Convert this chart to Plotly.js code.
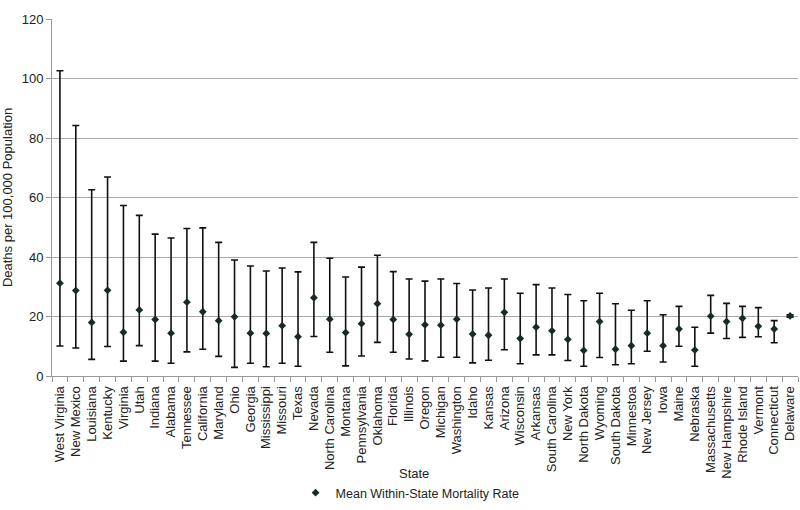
<!DOCTYPE html>
<html>
<head>
<meta charset="utf-8">
<script src="https://cdn.plot.ly/plotly-3.0.1.min.js"></script>
<style>html,body{margin:0;padding:0;background:#fff;}#chart{width:800px;height:510px;}</style>
</head>
<body>
<div id="chart"></div>
<script>
const states = ["West Virginia","New Mexico","Louisiana","Kentucky","Virginia","Utah","Indiana","Alabama","Tennessee","California","Maryland","Ohio","Georgia","Mississippi","Missouri","Texas","Nevada","North Carolina","Montana","Pennsylvania","Oklahoma","Florida","Illinois","Oregon","Michigan","Washington","Idaho","Kansas","Arizona","Wisconsin","Arkansas","South Carolina","New York","North Dakota","Wyoming","South Dakota","Minnestoa","New Jersey","Iowa","Maine","Nebraska","Massachusetts","New Hampshire","Rhode Island","Vermont","Connecticut","Delaware"];
const meanRate = [31.2,28.7,18.0,28.8,14.7,22.2,19.0,14.4,24.8,21.6,18.6,19.9,14.4,14.3,16.9,13.2,26.3,19.1,14.6,17.6,24.3,19.0,14.0,17.2,17.1,19.1,14.1,13.7,21.4,12.6,16.4,15.2,12.3,8.6,18.3,9.0,10.2,14.4,10.2,15.8,8.7,20.1,18.3,19.4,16.7,15.8,20.2];
const maxRate = [102.6,84.2,62.6,66.9,57.3,54.0,47.7,46.4,49.6,49.8,44.9,39.0,37.0,35.3,36.3,35.0,44.9,39.6,33.3,36.6,40.6,35.1,32.6,31.9,32.6,31.1,28.9,29.6,32.6,27.8,30.7,29.6,27.4,25.3,27.8,24.3,22.1,25.3,20.6,23.4,16.4,27.1,24.4,23.4,23.0,18.6,20.6];
const minRate = [10.1,9.4,5.6,9.9,5.0,10.2,5.0,4.3,8.1,9.0,6.6,2.9,4.3,3.1,4.3,3.3,13.3,8.0,3.4,6.7,11.3,8.0,5.7,5.1,6.3,6.3,4.4,5.3,8.8,4.1,7.1,7.1,5.2,3.3,6.2,3.8,4.1,8.3,4.7,10.0,3.3,14.4,12.6,13.0,13.2,11.2,19.8];
const yTicks = [0,20,40,60,80,100,120];

const plus = maxRate.map((v,i)=>v-meanRate[i]);
const minus = meanRate.map((v,i)=>v-minRate[i]);

const font = "Liberation Sans, Arial, sans-serif";
const trace = {
  type: "scatter",
  mode: "markers",
  x: states,
  y: meanRate,
  name: "Mean Within-State Mortality Rate",
  marker: {symbol: "diamond", size: 6, color: "#1a2a2a"},
  error_y: {type: "data", symmetric: false, array: plus, arrayminus: minus, color: "#111", thickness: 1.6, width: 3.5},
  hoverinfo: "x+y"
};
const layout = {
  width: 800, height: 510,
  margin: {l: 52, r: 2, t: 19, b: 131},
  paper_bgcolor: "#fff", plot_bgcolor: "#fff",
  font: {family: font, size: 13, color: "#222"},
  showlegend: true,
  legend: {orientation: "h", x: 0.48, xanchor: "center", y: -0.328, yanchor: "middle", font: {size: 12.5, color: "#222"}, itemwidth: 30},
  xaxis: {
    type: "category",
    tickmode: "linear", dtick: 1,
    tickangle: -90,
    ticks: "outside", ticklen: 5, tickcolor: "#999", tickson: "boundaries",
    ticklabelstandoff: 4,
    showline: true, linecolor: "#999", linewidth: 1,
    showgrid: false, automargin: false,
    tickfont: {size: 13, color: "#222"},
    range: [-0.5, states.length - 0.5]
  },
  yaxis: {
    range: [0, 120],
    tickvals: yTicks,
    ticktext: yTicks.map(String),
    ticks: "outside", ticklen: 5, tickcolor: "#999",
    showline: true, linecolor: "#999", linewidth: 1,
    showgrid: true, gridcolor: "#aaa", gridwidth: 1,
    zeroline: false, automargin: false,
    tickfont: {size: 13, color: "#222"},
    title: {text: "Deaths per 100,000 Population", font: {size: 13, color: "#222"}, standoff: 12}
  },
  annotations: [{
    text: "State", xref: "paper", yref: "paper", x: 0.485, y: -0.272,
    xanchor: "center", yanchor: "middle", showarrow: false,
    font: {size: 13, color: "#222"}
  }]
};
Plotly.newPlot("chart", [trace], layout, {displayModeBar: false, staticPlot: true});
</script>
</body>
</html>
